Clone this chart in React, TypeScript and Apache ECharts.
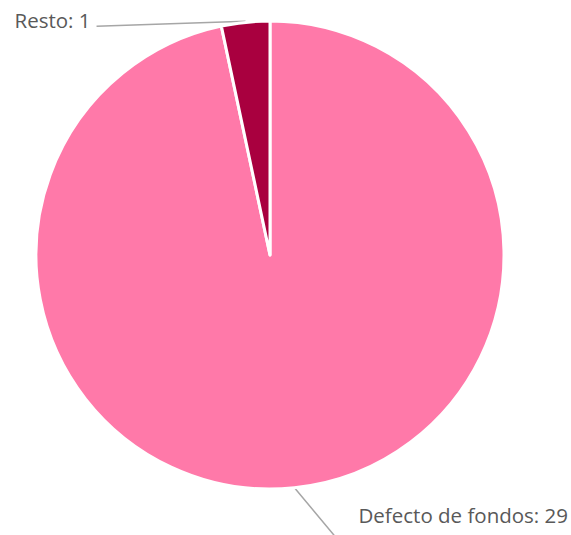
import React, { useEffect, useRef } from "react";
import * as echarts from "echarts";

const categories = ["Defecto de fondos", "Resto"];
const values = [29, 1];
const colors = ["#FF79A9", "#A9003F"];

export default function App() {
  const ref = useRef<HTMLDivElement>(null);
  useEffect(() => {
    if (!ref.current) return;
    const chart = echarts.init(ref.current, undefined, { renderer: "svg" });
    chart.setOption({
      animation: false,
      backgroundColor: "#ffffff",
      series: [
        {
          type: "pie",
          center: [270, 255],
          radius: 234,
          startAngle: 90,
          clockwise: true,
          data: categories.map((c, i) => ({
            name: c,
            value: values[i],
            itemStyle: { color: colors[i] },
          })),
          itemStyle: { borderColor: "#ffffff", borderWidth: 3 },
          label: {
            show: true,
            position: "outside",
            formatter: "{b}: {c}",
            color: "#595959",
            fontSize: 20.5,
            fontFamily: "Open Sans, Liberation Sans, sans-serif",
          },
          labelLine: {
            show: true,
            length: 20,
            length2: 20,
            lineStyle: { color: "#A6A6A6", width: 1.5 },
          },
          labelLayout: (params: any) => {
            const pts = params.labelLinePoints;
            if (!pts) return {};
            const s = pts[0];
            if (params.dataIndex === 0) {
              return {
                x: s[0] + 64,
                y: s[1] + 27,
                align: "left",
                verticalAlign: "middle",
                labelLinePoints: [
                  [s[0], s[1]],
                  [s[0] + 20, s[1] + 24],
                  [s[0] + 40, s[1] + 48],
                ],
              };
            }
            return {
              x: s[0] - 155,
              y: s[1] - 2,
              align: "right",
              verticalAlign: "middle",
              labelLinePoints: [
                [s[0], s[1] - 1],
                [s[0] - 75, s[1] + 1.5],
                [s[0] - 149, s[1] + 4],
              ],
            };
          },
        },
      ],
    });
    return () => chart.dispose();
  }, []);
  return (
    <div
      ref={ref}
      style={{ position: "absolute", left: 0, top: 0, width: 571, height: 535 }}
    />
  );
}
